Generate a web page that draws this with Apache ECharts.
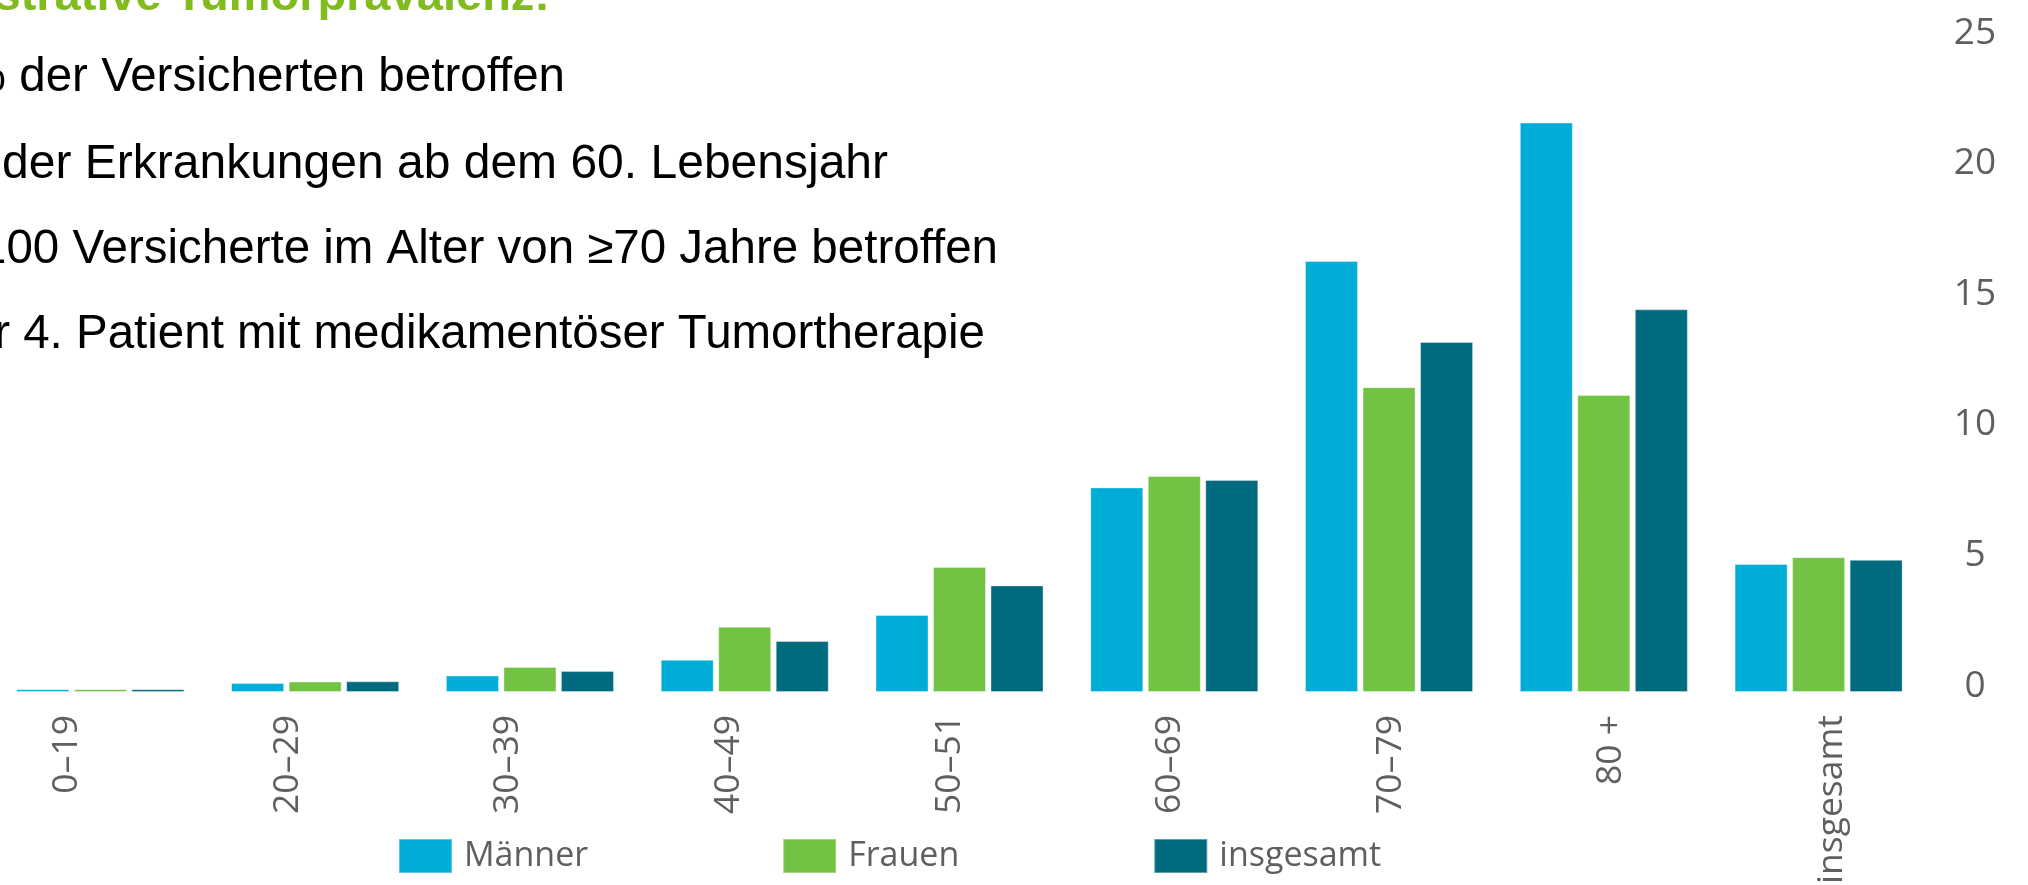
<!DOCTYPE html>
<html>
<head>
<meta charset="utf-8">
<script src="https://cdn.jsdelivr.net/npm/echarts@6/dist/echarts.min.js"></script>
<style>
    html, body { margin: 0; padding: 0; background: #fff; }
    #chart1 { width: 2028px; height: 885px; }
</style>
</head>
<body>
<div id="chart1"></div>
<script>
// age groups (x axis)
var categories = ['0–19', '20–29', '30–39', '40–49', '50–51', '60–69', '70–79', '80 +', 'insgesamt'];
// values in %
var maenner = [0.11, 0.34, 0.63, 1.23, 2.95, 7.83, 16.5, 21.8, 4.9];
var frauen = [0.11, 0.40, 0.96, 2.5, 4.79, 8.27, 11.67, 11.37, 5.16];
var insgesamt = [0.11, 0.41, 0.80, 1.95, 4.08, 8.12, 13.4, 14.65, 5.06];
var seriesNames = ['Männer', 'Frauen', 'insgesamt'];
var seriesColors = ['#00ADD6', '#72C244', '#006B7E'];

// text block on the left (cut off by the slide edge)
var titleText = 'Administrative Tumorprävalenz:';
var bulletLines = [
    'ca. 5 % der Versicherten betroffen',
    'ca. 80 % der Erkrankungen ab dem 60. Lebensjahr',
    '14 von 100 Versicherte im Alter von ≥70 Jahre betroffen',
    'Jeder 4. Patient mit medikamentöser Tumortherapie'
];

var axisFont = '"Open Sans", "Noto Sans", sans-serif';
var textFont = '"Liberation Sans", Arial, sans-serif';

var chartDom = document.getElementById('chart1');
var myChart1 = echarts.init(chartDom);

var values = [maenner, frauen, insgesamt];
var series = [];
for (var i = 0; i < values.length; i++) {
    series.push({
        name: seriesNames[i],
        type: 'bar',
        xAxisIndex: 0,
        yAxisIndex: 0,
        barWidth: 53,
        barGap: '8.5%',
        itemStyle: {
            color: seriesColors[i],
            borderColor: 'rgba(255,255,255,0.35)',
            borderWidth: 1
        },
        data: values[i]
    });
}

var lineRight = [565, 888, 998, 985];
var lineY = [78, 165, 250, 335];
var lineSize = [47.5, 48, 47.5, 47.5];
var graphics = [{
    type: 'text',
    x: 550,
    y: -3,
    style: {
        text: titleText,
        font: 'bold 47px ' + textFont,
        fill: '#80BC1E',
        align: 'right',
        verticalAlign: 'middle'
    }
}];
for (var j = 0; j < bulletLines.length; j++) {
    graphics.push({
        type: 'text',
        x: lineRight[j],
        y: lineY[j],
        style: {
            text: bulletLines[j],
            font: lineSize[j] + 'px ' + textFont,
            fill: '#000',
            align: 'right',
            verticalAlign: 'middle'
        }
    });
}

var option = {
    animation: false,
    backgroundColor: '#fff',
    grid: [
        { left: -7, width: 1933, top: 39, height: 653, outerBoundsMode: 'none', containLabel: false },
        { left: -43, width: 1985, top: 39, height: 653, outerBoundsMode: 'none', containLabel: false }
    ],
    legend: {
        data: seriesNames,
        left: 398,
        top: 838,
        padding: 0,
        icon: 'rect',
        itemWidth: 53,
        itemHeight: 34,
        itemGap: 194,
        textStyle: {
            fontFamily: axisFont,
            fontSize: 34,
            color: '#5f5f5f',
            padding: [0, 0, 0, 7]
        }
    },
    xAxis: [
        {
            type: 'category',
            gridIndex: 0,
            data: categories,
            axisLine: { show: false },
            axisTick: { show: false },
            axisLabel: { show: false }
        },
        {
            type: 'category',
            gridIndex: 1,
            data: categories,
            axisLine: { show: false },
            axisTick: { show: false },
            axisLabel: {
                rotate: 90,
                margin: 23,
                interval: 0,
                fontFamily: axisFont,
                fontSize: 35.5,
                color: '#5f5f5f'
            }
        }
    ],
    yAxis: [
        {
            type: 'value',
            gridIndex: 0,
            position: 'right',
            min: 0,
            max: 25,
            interval: 5,
            splitLine: { show: false },
            axisLine: { show: false },
            axisTick: { show: false },
            axisLabel: {
                margin: 49,
                align: 'center',
                verticalAlign: 'bottom',
                lineHeight: 12,
                fontFamily: axisFont,
                fontSize: 37,
                color: '#5f5f5f'
            }
        },
        {
            type: 'value',
            gridIndex: 1,
            show: false
        }
    ],
    graphic: graphics,
    series: series
};
myChart1.setOption(option);
</script>
</body>
</html>
